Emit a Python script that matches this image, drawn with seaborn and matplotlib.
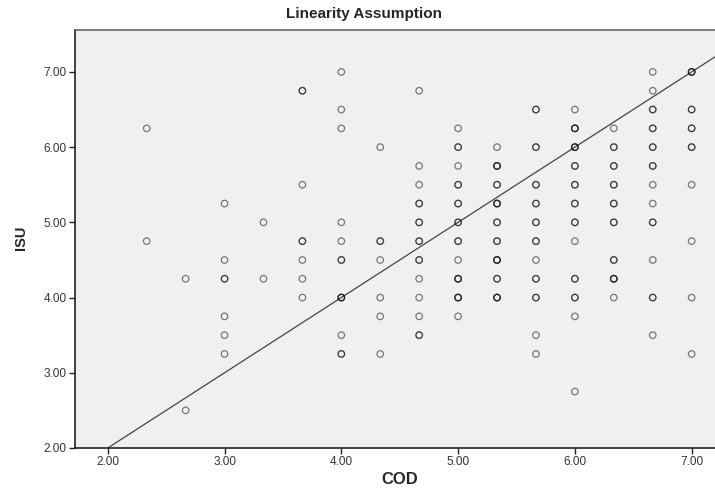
import numpy as np
import pandas as pd
import matplotlib
matplotlib.use('Agg')
import matplotlib.pyplot as plt
import seaborn as sns

# COD levels (thirds) and the ISU values seen at each level
# repeated values = overlapping cases (drawn darker)
cod_levels = [7/3, 8/3, 3.0, 10/3, 11/3, 4.0, 13/3, 14/3, 5.0, 16/3, 17/3, 6.0, 19/3, 20/3, 7.0]

isu_233 = [6.25, 4.75]
isu_267 = [4.25, 2.5]
isu_300 = [5.25, 4.5, 4.25, 4.25, 3.75, 3.5, 3.25]
isu_333 = [5.0, 4.25]
isu_367 = [6.75, 6.75, 5.5, 4.75, 4.75, 4.5, 4.25, 4.0]
isu_400 = [7.0, 6.5, 6.25, 5.0, 4.75, 4.5, 4.5, 4.0, 4.0, 4.0, 3.5, 3.25, 3.25]
isu_433 = [6.0, 4.75, 4.75, 4.5, 4.0, 3.75, 3.25]
isu_467 = [6.75, 5.75, 5.5, 5.25, 5.25, 5.0, 5.0, 4.75, 4.75, 4.5, 4.5, 4.25, 4.0, 3.75, 3.5, 3.5]
isu_500 = [6.25, 6.0, 6.0, 5.75, 5.5, 5.5, 5.25, 5.25, 5.0, 5.0, 4.75, 4.75, 4.5,
           4.25, 4.25, 4.25, 4.0, 4.0, 4.0, 3.75]
isu_533 = [6.0, 5.75, 5.75, 5.75, 5.5, 5.5, 5.25, 5.25, 5.25, 5.0, 5.0, 4.75, 4.75,
           4.5, 4.5, 4.5, 4.25, 4.25, 4.0, 4.0, 4.0]
isu_567 = [6.5, 6.5, 6.0, 6.0, 5.5, 5.5, 5.25, 5.25, 5.0, 5.0, 4.75, 4.75, 4.5,
           4.25, 4.25, 4.0, 4.0, 3.5, 3.25]
isu_600 = [6.5, 6.25, 6.25, 6.25, 6.0, 6.0, 6.0, 5.75, 5.75, 5.5, 5.5, 5.25, 5.25,
           5.0, 5.0, 4.75, 4.25, 4.25, 4.0, 4.0, 3.75, 2.75]
isu_633 = [6.25, 6.0, 6.0, 5.75, 5.75, 5.5, 5.5, 5.25, 5.25, 5.0, 5.0, 4.5, 4.5,
           4.25, 4.25, 4.25, 4.0]
isu_667 = [7.0, 6.75, 6.5, 6.5, 6.25, 6.25, 6.0, 6.0, 5.75, 5.75, 5.5, 5.25, 5.0, 5.0,
           4.5, 4.0, 4.0, 3.5]
isu_700 = [7.0, 7.0, 7.0, 6.5, 6.5, 6.25, 6.25, 6.0, 6.0, 5.5, 4.75, 4.0, 3.25]

isu_by_level = [isu_233, isu_267, isu_300, isu_333, isu_367, isu_400, isu_433, isu_467,
                isu_500, isu_533, isu_567, isu_600, isu_633, isu_667, isu_700]

cod = []
isu = []
for lvl, vals in zip(cod_levels, isu_by_level):
    cod += [lvl] * len(vals)
    isu += vals
df = pd.DataFrame({'COD': cod, 'ISU': isu})

# reference line y = x
ref_x = [2.0, 7.3]

sns.set_style('white')
plt.rcParams['font.family'] = ['Liberation Sans', 'DejaVu Sans']

fig = plt.figure(figsize=(7.15, 4.88), dpi=100)
fig.set_facecolor('white')
ax = fig.add_axes([0.105, 0.082, 0.895, 0.856])
ax.set_facecolor('#F0F0F0')

sns.scatterplot(data=df, x='COD', y='ISU', ax=ax, marker='o', s=22,
                facecolor='none', edgecolor='black', linewidth=0.9, alpha=0.5, zorder=3)
ax.plot(ref_x, ref_x, color='#444444', linewidth=0.9, zorder=2)

ax.set_xlim(1.72, 7.2)
ax.set_ylim(2.0, 7.554)
ax.set_xticks([2, 3, 4, 5, 6, 7])
ax.set_yticks([2, 3, 4, 5, 6, 7])
ax.xaxis.set_major_formatter(matplotlib.ticker.FormatStrFormatter('%.2f'))
ax.yaxis.set_major_formatter(matplotlib.ticker.FormatStrFormatter('%.2f'))
ax.tick_params(axis='both', direction='out', length=4, width=1, color='#222222',
               labelsize=8.5, labelcolor='#333333', pad=2, bottom=True, left=True)

for side in ['left', 'bottom']:
    ax.spines[side].set_color('#222222')
    ax.spines[side].set_linewidth(1.2)
ax.spines['top'].set_color('#666666')
ax.spines['top'].set_linewidth(1.2)
ax.spines['right'].set_visible(False)

ax.set_xlabel('')
ax.set_ylabel('')
fig.text(400 / 715, 1 - 480 / 488, 'COD', ha='center', va='center',
         fontsize=12, fontweight='bold')
fig.text(21 / 715, 1 - 238 / 488, 'ISU', ha='center', va='center', rotation=90,
         fontsize=10.5, fontweight='bold')
fig.text(364 / 715, 1 - 14 / 488, 'Linearity Assumption', ha='center', va='center',
         fontsize=11, fontweight='bold')

plt.savefig('out.png', dpi=100)
